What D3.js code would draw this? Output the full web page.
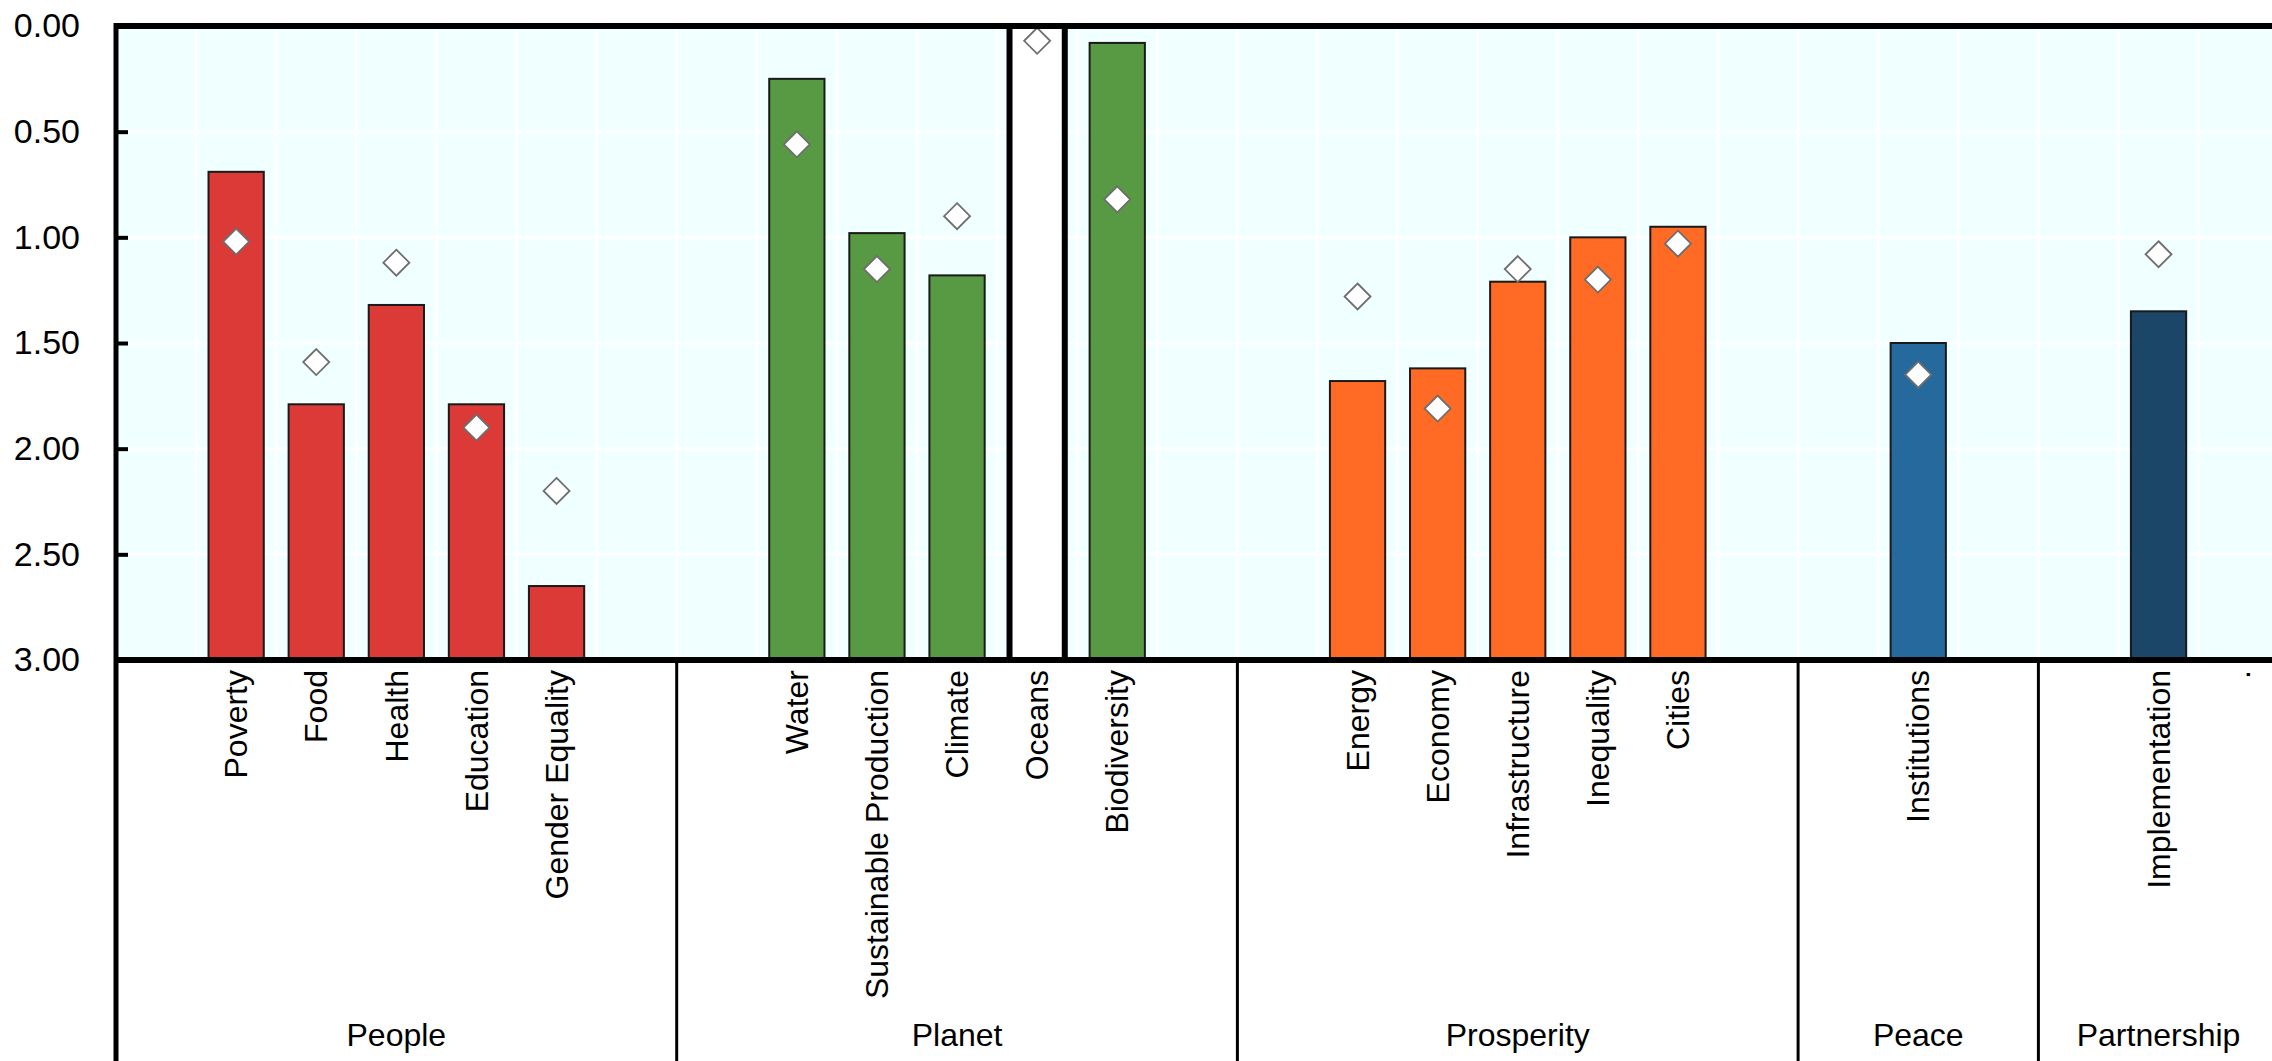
<!DOCTYPE html>
<html>
<head>
  <title>SDG distance chart</title>
  <script src="https://d3js.org/d3.v7.min.js"></script>
  <style>
    body { margin: 0; background: #fff; }
    svg { display: block; font-family: "Liberation Sans", Arial, sans-serif; }
  </style>
</head>
<body>
<div id="chart"></div>
<script>

// Slots along the x axis (empty strings are spacer slots between groups)
var categories = ["", "Poverty", "Food", "Health", "Education", "Gender Equality", "",
  "", "Water", "Sustainable Production", "Climate", "Oceans", "Biodiversity", "",
  "", "Energy", "Economy", "Infrastructure", "Inequality", "Cities", "",
  "", "Institutions", "",
  "", "Implementation", "."];

// Groups and how many slots each one covers
var groupNames = ["People", "Planet", "Prosperity", "Peace", "Partnership"];
var groupSizes = [7, 7, 7, 3, 3];

// Bar values (reversed axis, 0 at top)
var barValues = [null, 0.69, 1.79, 1.32, 1.79, 2.65, null,
  null, 0.25, 0.98, 1.18, 0.00, 0.08, null,
  null, 1.68, 1.62, 1.21, 1.00, 0.95, null,
  null, 1.50, null,
  null, 1.35, null];

// Diamond markers
var diamondValues = [null, 1.02, 1.59, 1.12, 1.90, 2.20, null,
  null, 0.56, 1.15, 0.90, 0.07, 0.82, null,
  null, 1.28, 1.81, 1.15, 1.20, 1.03, null,
  null, 1.65, null,
  null, 1.08, null];

var yTicks = [0, 0.5, 1, 1.5, 2, 2.5, 3];

var groupColors = {
  People: "#db3a37",
  Planet: "#579a43",
  Prosperity: "#ff6a25",
  Peace: "#266a9d",
  Partnership: "#1c4668"
};

var width = 2272, height = 1061;
var plotLeft = 116, plotTop = 26, plotBottom = 660;
var step = 80.1;

// which group each slot belongs to
var slotGroup = [];
groupNames.forEach(function(g, i) {
  for (var k = 0; k < groupSizes[i]; k++) slotGroup.push(g);
});

var svg = d3.select("#chart").append("svg")
  .attr("width", width)
  .attr("height", height);

var x = d3.scaleBand()
  .domain(d3.range(categories.length))
  .range([plotLeft, plotLeft + step * categories.length])
  .padding(0);

var y = d3.scaleLinear()
  .domain([0, 3])
  .range([plotTop, plotBottom]);

var plotRight = plotLeft + step * categories.length;

// plot background
svg.append("rect")
  .attr("x", plotLeft).attr("y", plotTop)
  .attr("width", plotRight - plotLeft).attr("height", plotBottom - plotTop)
  .attr("fill", "#f0ffff");

// white grid
svg.append("g").selectAll("line")
  .data(yTicks.slice(1, -1))
  .enter().append("line")
  .attr("x1", plotLeft).attr("x2", plotRight)
  .attr("y1", function(d) { return y(d); })
  .attr("y2", function(d) { return y(d); })
  .attr("stroke", "#fff").attr("stroke-width", 3);

svg.append("g").selectAll("line")
  .data(d3.range(1, categories.length))
  .enter().append("line")
  .attr("x1", function(d) { return x(d); })
  .attr("x2", function(d) { return x(d); })
  .attr("y1", plotTop).attr("y2", plotBottom)
  .attr("stroke", "#fff").attr("stroke-width", 3);

// bars
var barW = x.bandwidth() * 0.69;
var bars = categories.map(function(c, i) { return { i: i, v: barValues[i], g: slotGroup[i] }; })
  .filter(function(d) { return d.v !== null; });

svg.append("g").selectAll("rect")
  .data(bars)
  .enter().append("rect")
  .attr("x", function(d) { return x(d.i) + (x.bandwidth() - barW) / 2; })
  .attr("y", function(d) { return y(d.v); })
  .attr("width", barW)
  .attr("height", function(d) { return y(3) - y(d.v); })
  .attr("fill", function(d) { return d.v === 0 ? "#fff" : groupColors[d.g]; })
  .attr("stroke", function(d) { return d.v === 0 ? "#000" : "#1a1a1a"; })
  .attr("stroke-width", function(d) { return d.v === 0 ? 6 : 2; });

// diamonds
var dia = categories.map(function(c, i) { return { i: i, v: diamondValues[i] }; })
  .filter(function(d) { return d.v !== null; });

svg.append("g").selectAll("path")
  .data(dia)
  .enter().append("path")
  .attr("transform", function(d) {
    return "translate(" + (x(d.i) + x.bandwidth() / 2) + "," + y(d.v) + ")";
  })
  .attr("d", "M0,-13L13,0L0,13L-13,0Z")
  .attr("fill", "#fff")
  .attr("stroke", "#6e6e6e")
  .attr("stroke-width", 1.8);

// top border
svg.append("line")
  .attr("x1", plotLeft).attr("x2", width)
  .attr("y1", plotTop).attr("y2", plotTop)
  .attr("stroke", "#000").attr("stroke-width", 6);

// y axis
var yAxis = d3.axisLeft(y)
  .tickValues(yTicks)
  .tickFormat(d3.format(".2f"))
  .tickSize(-12)
  .tickPadding(36);

var yg = svg.append("g")
  .attr("transform", "translate(" + plotLeft + ",0)")
  .call(yAxis);
yg.select(".domain").remove();
yg.selectAll(".tick line").attr("stroke", "#000").attr("stroke-width", 4);
yg.selectAll(".tick text")
  .attr("fill", "#000")
  .style("font-size", "34px");

// bottom axis line
svg.append("line")
  .attr("x1", plotLeft).attr("x2", width)
  .attr("y1", plotBottom).attr("y2", plotBottom)
  .attr("stroke", "#000").attr("stroke-width", 6);

// left axis line running down through the label area
svg.append("line")
  .attr("x1", plotLeft).attr("x2", plotLeft)
  .attr("y1", plotTop - 3).attr("y2", height)
  .attr("stroke", "#000").attr("stroke-width", 5);

// group separators in the label area
var bounds = [];
var acc = 0;
groupSizes.forEach(function(s) { bounds.push(acc); acc += s; });

svg.append("g").selectAll("line")
  .data(bounds.slice(1))
  .enter().append("line")
  .attr("x1", function(d) { return x(d); })
  .attr("x2", function(d) { return x(d); })
  .attr("y1", plotBottom).attr("y2", height)
  .attr("stroke", "#000").attr("stroke-width", 3);

// category labels
svg.append("g").selectAll("text")
  .data(categories.map(function(c, i) { return { i: i, c: c }; }).filter(function(d) { return d.c !== ""; }))
  .enter().append("text")
  .attr("transform", function(d) {
    return "translate(" + (x(d.i) + x.bandwidth() / 2) + "," + (plotBottom + 10) + ") rotate(-90)";
  })
  .attr("dy", "0.35em")
  .attr("text-anchor", "end")
  .style("font-size", "32px")
  .attr("fill", "#000")
  .text(function(d) { return d.c; });

// group labels
svg.append("g").selectAll("text")
  .data(groupNames)
  .enter().append("text")
  .attr("x", function(d, i) { return x(bounds[i]) + groupSizes[i] * step / 2; })
  .attr("y", 1046)
  .attr("text-anchor", "middle")
  .style("font-size", "32px")
  .attr("fill", "#000")
  .text(function(d) { return d; });

</script>
</body>
</html>
